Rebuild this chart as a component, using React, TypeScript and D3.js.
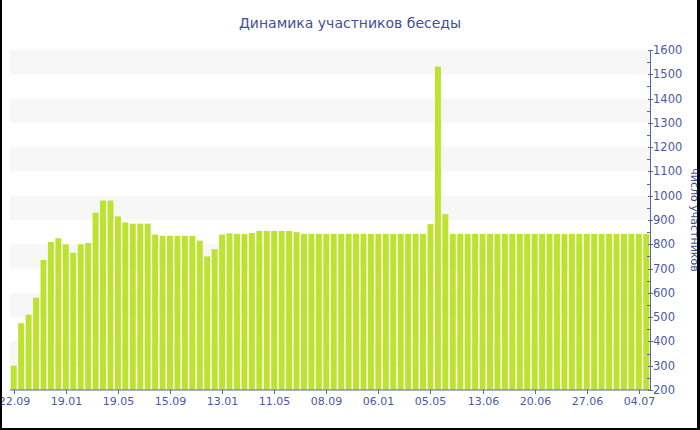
import * as d3 from 'd3'

const members = [
  300, 475, 510, 580, 735, 810, 825, 800, 765, 800,
  805, 930, 980, 980, 915, 890, 885, 885, 885, 840,
  835, 835, 835, 835, 835, 815, 750, 780, 840, 845,
  843, 843, 847, 855, 855, 855, 855, 855, 850, 843,
  843, 843, 843, 843, 843, 843, 843, 843, 843, 843,
  843, 843, 843, 843, 843, 843, 883, 1532, 924, 843,
  843, 843, 843, 843, 843, 843, 843, 843, 843, 843,
  843, 843, 843, 843, 843, 843, 843, 843, 843, 843,
  843, 843, 843, 843, 843, 843,
]

const tickLabels = [
  '22.09', '19.01', '19.05', '15.09', '13.01', '11.05', '08.09',
  '06.01', '05.05', '13.06', '20.06', '27.06', '04.07',
]
const labelEvery = 7

const yTicks = d3.range(200, 1601, 100)
const yMinor = d3.range(250, 1600, 100)
const bands = [300, 500, 700, 900, 1100, 1300, 1500]

const W = 700
const H = 430
const plot = { left: 10, right: 650, top: 50, bottom: 390 }

const axisColor = '#5666a8'
const textColor = '#4a5aa0'
const barColor = '#bde22f'
const font = '"DejaVu Sans", Verdana, sans-serif'

export default function App() {
  const x = d3.scaleBand<number>()
    .domain(d3.range(members.length))
    .range([plot.left, plot.right])
    .paddingInner(0.2)
    .paddingOuter(0.1)

  const y = d3.scaleLinear()
    .domain([200, 1600])
    .range([plot.bottom, plot.top])

  const cx = (i: number) => (x(i) ?? 0) + x.bandwidth() / 2

  return (
    <svg
      width={W}
      height={H}
      style={{ position: 'absolute', left: 0, top: 0, display: 'block', background: '#fff' }}
      fontFamily={font}
    >
      {/* alternating bands */}
      {bands.map((b) => (
        <rect
          key={b}
          x={plot.left}
          y={y(b + 100)}
          width={plot.right - plot.left}
          height={y(b) - y(b + 100)}
          fill="#f7f7f7"
        />
      ))}

      {/* bars */}
      {members.map((v, i) => (
        <rect
          key={i}
          x={x(i)}
          y={y(v)}
          width={x.bandwidth()}
          height={plot.bottom - y(v)}
          fill={barColor}
        />
      ))}

      {/* title */}
      <text x={350} y={28} textAnchor="middle" fontSize={14} fill="#3f4f98">
        Динамика участников беседы
      </text>

      {/* bottom axis */}
      <line x1={plot.left} x2={plot.right} y1={plot.bottom} y2={plot.bottom} stroke={axisColor} />
      {tickLabels.map((t, k) => {
        const px = Math.round(cx(k * labelEvery)) + 0.5
        return (
          <g key={t}>
            <line x1={px} x2={px} y1={plot.bottom} y2={plot.bottom + 4} stroke={axisColor} />
            <text x={px} y={405} textAnchor="middle" fontSize={11} fill={textColor}>
              {t}
            </text>
          </g>
        )
      })}

      {/* right axis */}
      <line x1={plot.right + 0.5} x2={plot.right + 0.5} y1={plot.top} y2={plot.bottom} stroke={axisColor} />
      {yMinor.map((v) => (
        <line
          key={v}
          x1={plot.right - 3}
          x2={plot.right}
          y1={Math.round(y(v)) + 0.5}
          y2={Math.round(y(v)) + 0.5}
          stroke={axisColor}
        />
      ))}
      {yTicks.map((v) => (
        <g key={v}>
          <line
            x1={plot.right - 2}
            x2={plot.right + 3}
            y1={Math.round(y(v)) + 0.5}
            y2={Math.round(y(v)) + 0.5}
            stroke={axisColor}
          />
          <text x={plot.right + 3} y={y(v) + 4} fontSize={11.5} fill={textColor}>
            {v}
          </text>
        </g>
      ))}
      <text
        transform={`translate(691, 220) rotate(90)`}
        textAnchor="middle"
        fontSize={11}
        fill="#3f4f98"
      >
        число участников
      </text>

      {/* frame */}
      <rect x={0} y={0} width={2} height={H} fill="#000" />
      <rect x={0} y={428} width={W} height={2} fill="#000" />
      <rect x={697} y={0} width={3} height={H} fill="#000" />
    </svg>
  )
}
